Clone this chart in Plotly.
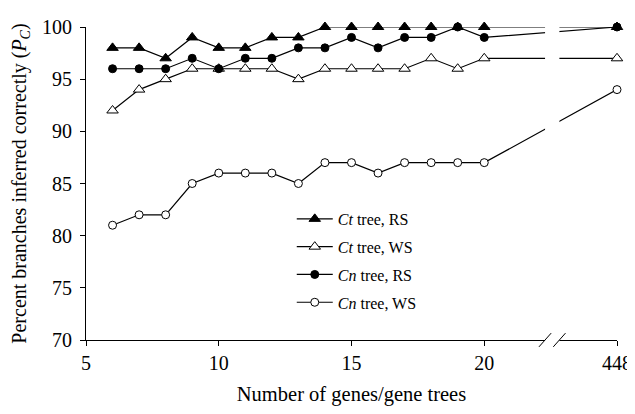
import plotly.graph_objects as go

genes = [6, 7, 8, 9, 10, 11, 12, 13, 14, 15, 16, 17, 18, 19, 20, 448]
ct_rs = [98, 98, 97, 99, 98, 98, 99, 99, 100, 100, 100, 100, 100, 100, 100, 100]
ct_ws = [92, 94, 95, 96, 96, 96, 96, 95, 96, 96, 96, 96, 97, 96, 97, 97]
cn_rs = [96, 96, 96, 97, 96, 97, 97, 98, 98, 99, 98, 99, 99, 100, 99, 100]
cn_ws = [81, 82, 82, 85, 86, 86, 86, 85, 87, 87, 86, 87, 87, 87, 87, 94]

x_ticks = [5, 10, 15, 20, 448]
y_ticks = [70, 75, 80, 85, 90, 95, 100]

# axis break: values beyond 20 are placed at this compressed position
BREAK_POS = 25


def to_axis(v):
    return v if v <= 20 else BREAK_POS


xs = [to_axis(g) for g in genes]
font = "Liberation Serif, Times New Roman, serif"

fig = go.Figure()

series = [
    ("<i>Ct</i> tree, RS", ct_rs, "triangle-up", 10, "black"),
    ("<i>Ct</i> tree, WS", ct_ws, "triangle-up", 10, "white"),
    ("<i>Cn</i> tree, RS", cn_rs, "circle", 8, "black"),
    ("<i>Cn</i> tree, WS", cn_ws, "circle", 8, "white"),
]
for i, (name, ys, sym, size, fill) in enumerate(series):
    fig.add_trace(go.Scatter(
        x=xs, y=ys, name=name, mode="lines+markers", legendgroup=f"g{i}",
        line=dict(color="black", width=1.2),
        marker=dict(symbol=sym, size=size, color=fill,
                    line=dict(color="black", width=1)),
        cliponaxis=False,
    ))

# break mask and slashes
b1, b2 = 22.29, 22.83
fig.add_shape(type="rect", xref="x", yref="paper", x0=b1, x1=b2, y0=-0.01, y1=1.02,
              fillcolor="white", line=dict(width=0), layer="above")
for bx in (b1, b2):
    fig.add_shape(type="line", xref="x", yref="paper",
                  x0=bx - 0.23, x1=bx + 0.23, y0=-0.022, y1=0.022,
                  line=dict(color="black", width=1), layer="above")

# page body adds an 8px offset; figure sized to the visible area
fig.update_layout(
    width=627, height=398,
    margin=dict(l=78, r=18, t=19, b=66),
    paper_bgcolor="white", plot_bgcolor="white",
    font=dict(family=font, color="black", size=17),
    showlegend=True,
    legend=dict(x=0.3875, y=0.441, xanchor="left", yanchor="top",
                font=dict(family=font, size=16), bgcolor="rgba(0,0,0,0)",
                tracegroupgap=4, itemwidth=36),
)
fig.update_xaxes(
    range=[5, BREAK_POS], tickvals=[to_axis(v) for v in x_ticks],
    ticktext=[str(v) for v in x_ticks], automargin=False,
    showline=True, linecolor="black", linewidth=1, ticks="outside", ticklen=5,
    tickcolor="black", showgrid=False, zeroline=False,
    tickfont=dict(size=20),
    title=dict(text="Number of genes/gene trees", font=dict(size=20.5), standoff=14),
)
fig.update_yaxes(
    range=[70, 100], tickvals=y_ticks, automargin=False,
    showline=True, linecolor="black", linewidth=1, ticks="outside", ticklen=5,
    tickcolor="black", showgrid=False, zeroline=False, ticklabelstandoff=4,
    tickfont=dict(size=20),
    title=dict(text="Percent branches inferred correctly (<i>P</i><sub><i>C</i></sub>)",
               font=dict(size=20), standoff=12),
)

fig.write_html("out.html")
